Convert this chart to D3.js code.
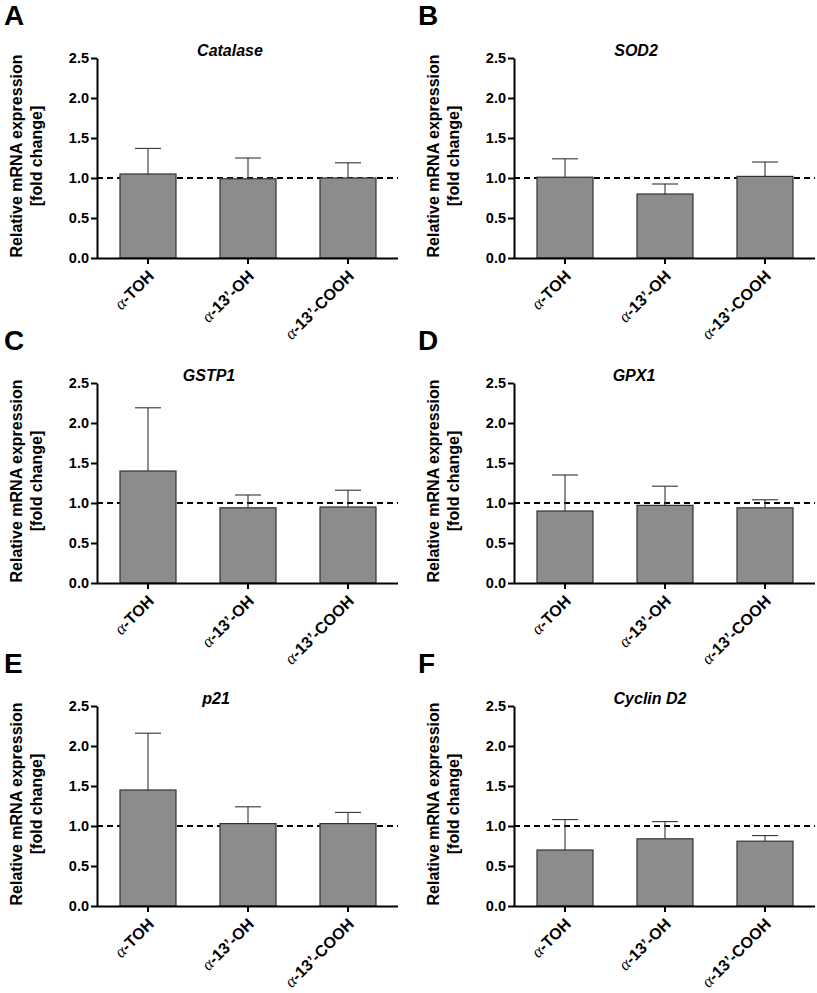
<!DOCTYPE html>
<html><head><meta charset="utf-8">
<script src="https://cdn.jsdelivr.net/npm/d3@7/dist/d3.min.js"></script>
<style>body{margin:0;background:#fff}</style></head>
<body>
<svg id="c" width="817" height="993"></svg>
<script>
// ---- data ----
const categories = ["α-TOH", "α-13’-OH", "α-13’-COOH"];
const genes = ["Catalase", "SOD2", "GSTP1", "GPX1", "p21", "Cyclin D2"];
const panelLetters = ["A", "B", "C", "D", "E", "F"];
const catalaseMean = [1.05, 0.99, 1.00];
const catalaseUpper = [1.37, 1.25, 1.19];
const sod2Mean = [1.01, 0.80, 1.02];
const sod2Upper = [1.24, 0.925, 1.20];
const gstp1Mean = [1.40, 0.94, 0.95];
const gstp1Upper = [2.19, 1.10, 1.16];
const gpx1Mean = [0.90, 0.97, 0.94];
const gpx1Upper = [1.35, 1.21, 1.04];
const p21Mean = [1.45, 1.03, 1.03];
const p21Upper = [2.16, 1.24, 1.17];
const cyclinD2Mean = [0.70, 0.84, 0.81];
const cyclinD2Upper = [1.08, 1.055, 0.88];
const yTicks = [0, 0.5, 1.0, 1.5, 2.0, 2.5];
const referenceLine = 1.0;
const yLabelLines = ["Relative mRNA expression", "[fold change]"];

const means = [catalaseMean, sod2Mean, gstp1Mean, gpx1Mean, p21Mean, cyclinD2Mean];
const uppers = [catalaseUpper, sod2Upper, gstp1Upper, gpx1Upper, p21Upper, cyclinD2Upper];

// ---- layout ----
const colX = [97, 514];
const rowBase = [258, 583, 906];
const plotW = 301, plotH = 200;
const titleOffset = [133, 122, 112, 120, 119, 136];
const FONT = "'Liberation Sans', Arial, Helvetica, sans-serif";

const svg = d3.select("#c");

genes.forEach((gene, i) => {
  const col = i % 2, row = Math.floor(i / 2);
  const x0 = colX[col], base = rowBase[row];
  const g = svg.append("g");

  const x = d3.scaleBand().domain(categories).range([x0 + 1, x0 + plotW])
    .paddingInner(0.44).paddingOuter(0.22);
  const y = d3.scaleLinear().domain([0, 2.5]).range([base, base - plotH]);

  // panel letter
  g.append("text").attr("x", col === 0 ? 4 : 418).attr("y", base - 233)
    .attr("font-family", FONT).attr("font-weight", "bold").attr("font-size", 28)
    .text(panelLetters[i]);

  // title
  g.append("text").attr("x", x0 + titleOffset[i]).attr("y", base - plotH - 2)
    .attr("text-anchor", "middle").attr("font-family", FONT)
    .attr("font-weight", "bold").attr("font-style", "italic").attr("font-size", 16)
    .text(gene);

  // y label
  const yl = g.append("text")
    .attr("transform", `translate(${x0 - 75},${base - plotH / 2 - 2}) rotate(-90)`)
    .attr("text-anchor", "middle").attr("font-family", FONT)
    .attr("font-weight", "bold").attr("font-size", 16);
  yl.append("tspan").attr("x", 0).attr("dy", 0).text(yLabelLines[0]);
  yl.append("tspan").attr("x", 0).attr("dy", 19.5).text(yLabelLines[1]);

  // reference dashed line (behind bars)
  g.append("line").attr("x1", x0).attr("x2", x0 + plotW)
    .attr("y1", y(referenceLine)).attr("y2", y(referenceLine))
    .attr("stroke", "#000").attr("stroke-width", 1.8).attr("stroke-dasharray", "6,4");

  const data = categories.map((c, j) => ({c, m: means[i][j], u: uppers[i][j]}));

  // error bars
  const eb = g.selectAll(".eb").data(data).enter().append("g");
  eb.append("line")
    .attr("x1", d => x(d.c) + x.bandwidth() / 2).attr("x2", d => x(d.c) + x.bandwidth() / 2)
    .attr("y1", d => y(d.m)).attr("y2", d => y(d.u))
    .attr("stroke", "#333").attr("stroke-width", 1.1);
  eb.append("line")
    .attr("x1", d => x(d.c) + x.bandwidth() / 2 - 13).attr("x2", d => x(d.c) + x.bandwidth() / 2 + 13)
    .attr("y1", d => y(d.u)).attr("y2", d => y(d.u))
    .attr("stroke", "#333").attr("stroke-width", 1.1);

  // bars
  g.selectAll(".bar").data(data).enter().append("rect")
    .attr("x", d => x(d.c)).attr("width", x.bandwidth())
    .attr("y", d => y(d.m)).attr("height", d => base - y(d.m))
    .attr("fill", "#8c8c8c").attr("stroke", "#333").attr("stroke-width", 1.2);

  // y axis
  const ya = g.append("g").attr("transform", `translate(${x0},0)`)
    .call(d3.axisLeft(y).tickValues(yTicks).tickFormat(d3.format(".1f"))
      .tickSize(6).tickSizeOuter(0).tickPadding(2));
  ya.selectAll("path, line").attr("stroke", "#000").attr("stroke-width", 2);
  ya.selectAll("text").attr("font-family", FONT).attr("font-weight", "bold")
    .attr("font-size", 14.5).attr("fill", "#000");

  // x axis
  const xa = g.append("g").attr("transform", `translate(0,${base})`)
    .call(d3.axisBottom(x).tickSize(6).tickSizeOuter(0).tickFormat(""));
  xa.select("path").attr("d", `M${x0},0.5H${x0 + plotW}`);
  xa.selectAll("path, line").attr("stroke", "#000").attr("stroke-width", 2);

  // rotated category labels
  categories.forEach(c => {
    const cx = x(c) + x.bandwidth() / 2;
    const t = g.append("text")
      .attr("transform", `translate(${cx + 7},${base + 19}) rotate(-45)`)
      .attr("text-anchor", "end").attr("font-family", FONT)
      .attr("font-weight", "bold").attr("font-size", 16);
    t.append("tspan").attr("font-family", "'Liberation Serif', 'Times New Roman', serif")
      .attr("font-weight", "normal").attr("font-style", "italic").attr("font-size", 17)
      .text(c.slice(0, 1));
    t.append("tspan").text(c.slice(1));
  });
});
</script>
</body></html>
